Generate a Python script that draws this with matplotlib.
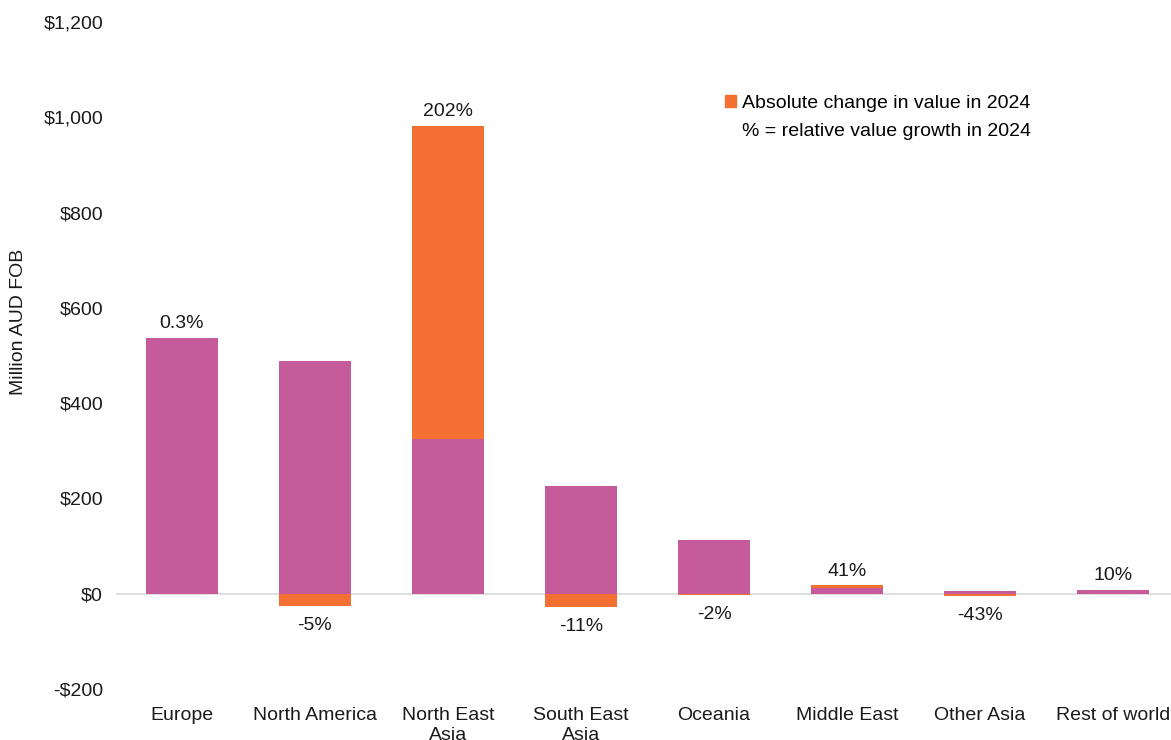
import matplotlib
matplotlib.use('Agg')
import matplotlib.pyplot as plt
from matplotlib.patches import Patch
from matplotlib.ticker import FuncFormatter

plt.rcParams['font.family'] = ['Liberation Sans', 'DejaVu Sans']

categories = ['Europe', 'North America', 'North East\nAsia', 'South East\nAsia',
              'Oceania', 'Middle East', 'Other Asia', 'Rest of world']
# purple part: smaller of the two years' values (million AUD FOB)
base = [536, 488, 325, 227, 112, 13, 6, 8]
# orange part: absolute change in 2024
change = [1.6, -25, 657, -28, -2.3, 5.5, -4.5, 0.8]
growth = ['0.3%', '-5%', '202%', '-11%', '-2%', '41%', '-43%', '10%']

purple = '#C55B9B'
orange = '#F37032'

fig = plt.figure(figsize=(11.71, 7.4), dpi=100)
ax = fig.add_axes([115.5/1171, 51/740, 1 - 115.5/1171, 667/740])

x = list(range(len(categories)))
w = 0.54
ax.bar(x, base, width=w, color=purple, edgecolor='none', zorder=2)
bott = [b if c > 0 else 0 for b, c in zip(base, change)]
ax.bar(x, change, width=w, bottom=bott, color=orange, edgecolor='none', zorder=2)

ax.axhline(0, color='#D9D9D9', lw=1.2, zorder=1)

for i, (b, c, g) in enumerate(zip(base, change, growth)):
  if c > 0:
    ax.annotate(g, (i, b + c), xytext=(0, 10), textcoords='offset points',
                ha='center', va='center', fontsize=14, color='#1a1a1a')
  else:
    ax.annotate(g, (i, c), xytext=(0, -14), textcoords='offset points',
                ha='center', va='center', fontsize=14, color='#1a1a1a')

ax.set_ylim(-200, 1200)
ax.set_xlim(-0.5, (1171 - 182) / 133)
ax.set_yticks(range(-200, 1201, 200))
ax.yaxis.set_major_formatter(FuncFormatter(
  lambda v, p: ('-$' if v < 0 else '$') + format(int(abs(v)), ',')))
ax.set_xticks(x)
ax.set_xticklabels(categories, fontsize=14, color='#1a1a1a', linespacing=1.2)
ax.tick_params(axis='y', length=0, pad=9, labelsize=14, labelcolor='#1a1a1a')
ax.tick_params(axis='x', length=0, pad=13)
for s in ax.spines.values():
  s.set_visible(False)

ax.set_ylabel('Million AUD FOB', fontsize=14, color='#1a1a1a')
ax.yaxis.set_label_coords(-0.0838, 0.55)

handles = [Patch(color=orange), Patch(color='none')]
ax.legend(handles, ['Absolute change in value in 2024', '% = relative value growth in 2024'],
          loc='upper left', bbox_to_anchor=(725/1171, 1 - 95/740), bbox_transform=fig.transFigure,
          frameon=False, fontsize=14, handlelength=0.55, handleheight=0.55,
          handletextpad=0.35, labelspacing=0.55, borderaxespad=0, borderpad=0)

fig.savefig('out.png', dpi=100)
